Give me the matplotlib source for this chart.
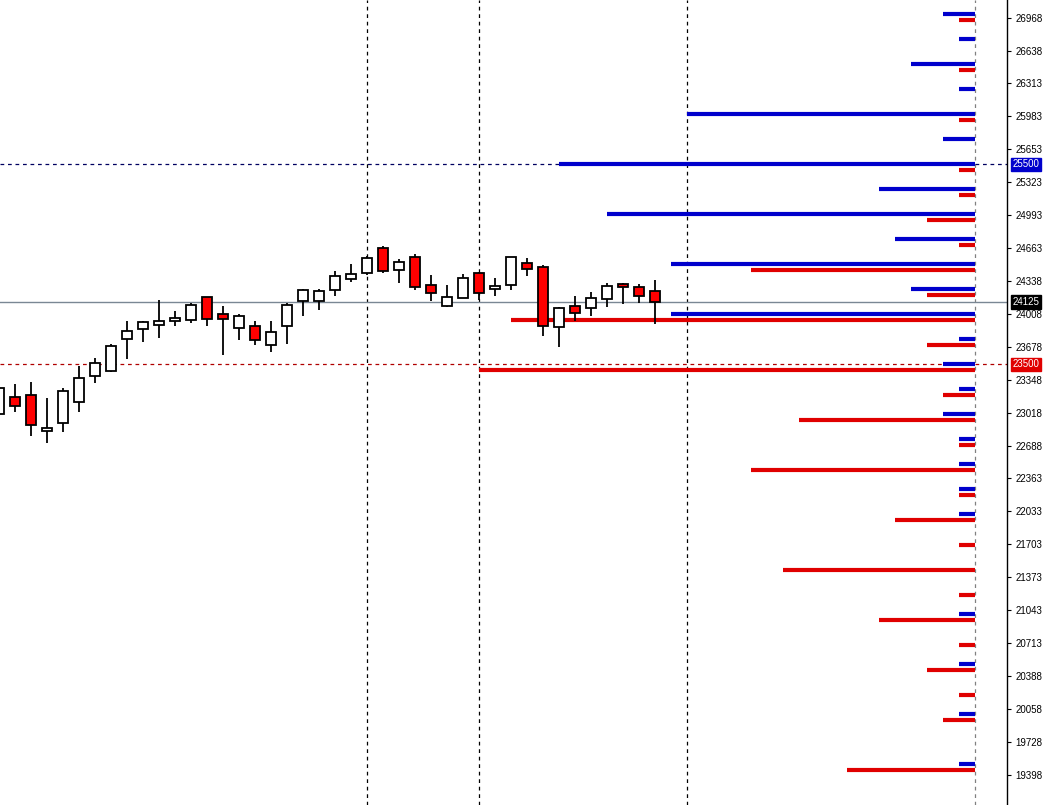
import matplotlib
matplotlib.use("Agg")
import matplotlib.pyplot as plt
import numpy as np

# daily candles (bar index -1 .. 40)
opens = [23008, 23178, 23195, 22835, 22915, 23121, 23385, 23431, 23755, 23855,
         23895, 23935, 23941, 24175, 24005, 23865, 23881, 23695, 23885, 24135,
         24135, 24245, 24355, 24415, 24665, 24445, 24575, 24295, 24085, 24165,
         24415, 24255, 24295, 24515, 24475, 23875, 24085, 24065, 24155, 24305,
         24275, 24235]
highs = [23290, 23305, 23328, 23168, 23268, 23488, 23568, 23705, 23938, 23938,
         24148, 24038, 24111, 24175, 24085, 24005, 23938, 23938, 24118, 24255,
         24255, 24435, 24508, 24588, 24688, 24558, 24605, 24395, 24295, 24405,
         24428, 24365, 24575, 24565, 24495, 24075, 24185, 24225, 24315, 24315,
         24305, 24345]
lows = [22990, 23028, 22781, 22711, 22828, 23028, 23311, 23421, 23551, 23721,
        23761, 23888, 23911, 23881, 23591, 23741, 23691, 23621, 23701, 23981,
        24041, 24181, 24321, 24398, 24415, 24315, 24241, 24135, 24075, 24165,
        24145, 24185, 24245, 24381, 23785, 23675, 23935, 23985, 24075, 24105,
        24115, 23905]
closes = [23268, 23085, 22895, 22861, 23235, 23365, 23515, 23685, 23835, 23925,
          23935, 23965, 24095, 23955, 23955, 23985, 23745, 23825, 24095, 24245,
          24235, 24385, 24405, 24565, 24435, 24521, 24275, 24215, 24175, 24365,
          24215, 24285, 24575, 24455, 23885, 24065, 24015, 24165, 24285, 24275,
          24185, 24125]

# strike levels with call (blue) and put (red) bar lengths
strikes = [27000, 26750, 26500, 26250, 26000, 25750, 25500, 25250, 25000, 24750,
           24500, 24250, 24000, 23750, 23500, 23250, 23000, 22750, 22500, 22250,
           22000, 21750, 21500, 21250, 21000, 20750, 20500, 20250, 20000, 19750,
           19500]
call_len = [2, 1, 4, 1, 18, 2, 26, 6, 23, 5,
            19, 4, 19, 1, 2, 1, 2, 1, 1, 1,
            1, 0, 0, 0, 1, 0, 1, 0, 1, 0,
            1]
put_len = [1, 0, 1, 0, 1, 0, 1, 1, 3, 1,
           14, 3, 29, 3, 31, 2, 11, 1, 14, 1,
           5, 1, 12, 1, 6, 1, 3, 1, 2, 0,
           8]

ytick_vals = [26968, 26638, 26313, 25983, 25653, 25323, 24993, 24663, 24338, 24008,
              23678, 23348, 23018, 22688, 22363, 22033, 21703, 21373, 21043, 20713,
              20388, 20058, 19728, 19398]

separators = [22, 29, 42]
anchor_bar = 60
current_price = 24125
upper_level = 25500
lower_level = 23500

BLUE = "#0000cc"
RED = "#e00000"

fig = plt.figure(figsize=(10.48, 8.05), dpi=100)
ax = fig.add_axes([0, 0, 1007 / 1048, 1])

# option levels
put_offset = 55
for s, n in zip(strikes, call_len):
    if n:
        ax.hlines(s, anchor_bar - n, anchor_bar, color=BLUE, lw=3, zorder=3)
for s, n in zip(strikes, put_len):
    if n:
        ax.hlines(s - put_offset, anchor_bar - n, anchor_bar, color=RED, lw=3, zorder=3)

# candles
idx = np.arange(len(opens)) - 1
o = np.array(opens)
c = np.array(closes)
ax.vlines(idx, lows, highs, color="black", lw=1.3, zorder=4)
bottoms = np.minimum(o, c)
heights = np.maximum(np.abs(c - o), 25)
cols = ["white" if cc >= oo else "#ff0000" for oo, cc in zip(o, c)]
ax.bar(idx, heights, bottom=bottoms, width=0.62, color=cols,
       edgecolor="black", linewidth=1.3, zorder=5)

# reference lines
ax.axhline(current_price, color="#7a8794", lw=1, zorder=2)
ax.axhline(upper_level, color="#000060", lw=0.9, ls=(0, (3, 3)), zorder=2)
ax.axhline(lower_level, color="#b00000", lw=0.9, ls=(0, (3, 3)), zorder=2)
for b in separators:
    ax.axvline(b, color="black", lw=0.9, ls=(0, (3, 3)), zorder=1)
ax.axvline(anchor_bar, color="#808080", lw=0.9, ls=(0, (3, 3)), zorder=1)

ax.set_xlim(-0.94, 62.0)
ax.set_ylim(19095, 27145)

for side in ["left", "top", "bottom"]:
    ax.spines[side].set_visible(False)
ax.spines["right"].set_color("black")
ax.spines["right"].set_linewidth(1)
ax.set_xticks([])
ax.yaxis.tick_right()
ax.set_yticks(ytick_vals)
ax.set_yticklabels([str(v) for v in ytick_vals])
ax.tick_params(axis="y", direction="out", length=3, width=0.8, pad=3,
               labelsize=7, labelcolor="black")
for lbl in ax.get_yticklabels():
    lbl.set_fontfamily("Liberation Sans")

# price tags on the axis
for val, bg in [(upper_level, BLUE), (current_price, "black"), (lower_level, RED)]:
    ax.annotate(str(val), xy=(1.0, val), xycoords=("axes fraction", "data"),
                xytext=(4, 0), textcoords="offset points", ha="left", va="center",
                fontsize=7, family="Liberation Sans", color="white",
                bbox=dict(boxstyle="square,pad=0.2", fc=bg, ec=bg),
                annotation_clip=False, zorder=10)

fig.savefig("out.png", dpi=100)
